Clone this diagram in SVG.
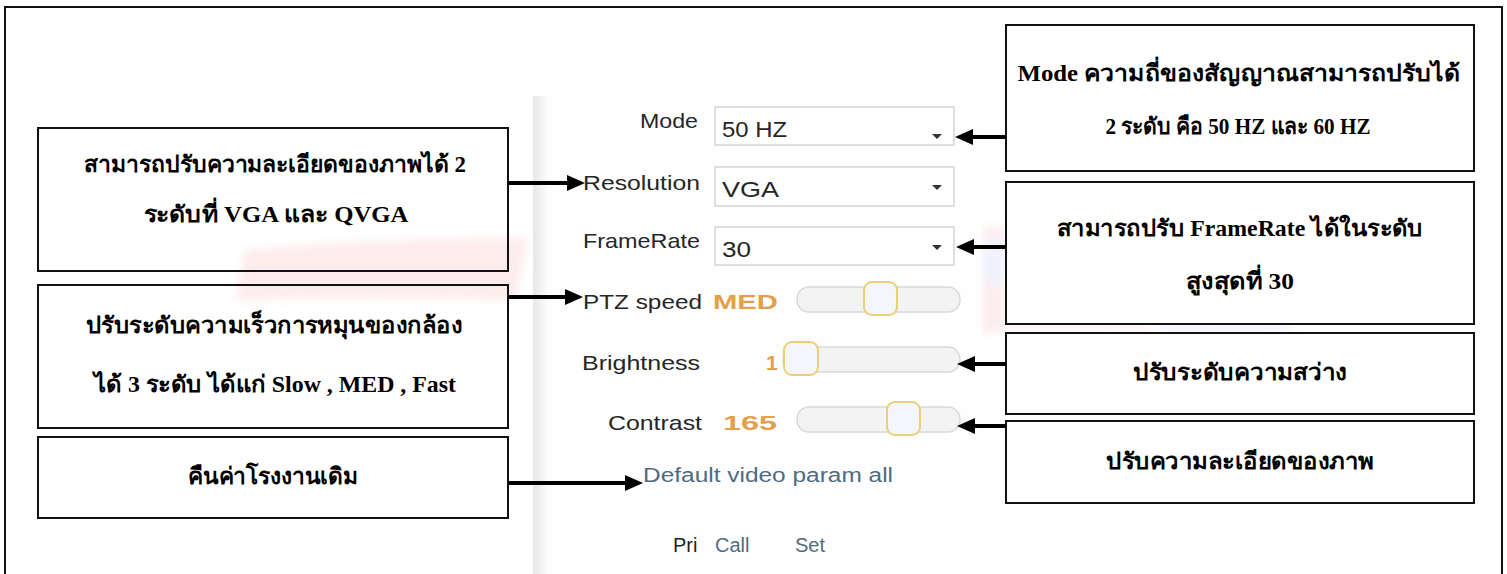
<svg xmlns="http://www.w3.org/2000/svg" width="1507" height="574" viewBox="0 0 1507 574">
<defs>
  <marker id="ah" markerUnits="userSpaceOnUse" markerWidth="20" markerHeight="18" refX="8" refY="9" orient="auto">
    <path d="M0,1 L18,9 L0,17 Z" fill="#000"/>
  </marker>
  <linearGradient id="strip" x1="0" x2="1" y1="0" y2="0">
    <stop offset="0" stop-color="#e6e6e6"/>
    <stop offset="1" stop-color="#fbfbfb"/>
  </linearGradient>
  <filter id="soft" x="-20%" y="-20%" width="140%" height="140%">
    <feGaussianBlur stdDeviation="4"/>
  </filter>
  <style>
    .box { fill: none; stroke: #111; stroke-width: 2; }
    .wbox { fill: #fff; stroke: #111; stroke-width: 2; }
    .th { font-family: "Liberation Serif", "DejaVu Serif", serif; font-weight: bold; font-size: 23px; fill: #000; text-anchor: middle; }
    .lbl { font-family: "Liberation Sans", Arial, sans-serif; font-size: 21px; fill: #262626; text-anchor: end; }
    .val { font-family: "Liberation Sans", Arial, sans-serif; font-size: 22px; fill: #262626; }
    .org { font-family: "Liberation Sans", Arial, sans-serif; font-size: 21px; font-weight: bold; fill: #e3a04a; }
    .lnk { font-family: "Liberation Sans", Arial, sans-serif; font-size: 20px; fill: #4f6b82; }
    .dd { fill: #fff; stroke: #d3d3d3; stroke-width: 1.5; }
    .tri { fill: #333; }
    .track { fill: #f3f3f3; stroke: #d9d9d9; stroke-width: 1.5; }
    .thumb { fill: #f4f6fb; stroke: #ebcf74; stroke-width: 2; }
    .conn { stroke: #000; stroke-width: 4; fill: none; marker-end: url(#ah); }
  </style>
</defs>
<rect width="1507" height="574" fill="#fff"/>
<!-- faint watermark -->
<g id="watermark" opacity="0.12" filter="url(#soft)">
  <path d="M245,250 Q380,238 528,238 L515,300 Q380,296 235,300 Z" fill="#ee6a6a"/>
  <path d="M982,228 L1006,226 L1006,330 L982,334 Z" fill="#ee7777"/>
  <ellipse cx="994" cy="262" rx="12" ry="26" fill="#7f95ee"/>
  <path d="M1006,325 L1150,324 L1150,332 L1006,333 Z" fill="#ee8899"/>
  <path d="M1160,324 L1290,323 L1290,332 L1160,332 Z" fill="#8fa0ee"/>
</g>
<!-- outer frame -->
<rect x="5" y="7" width="1497" height="600" fill="none" stroke="#111" stroke-width="2"/>
<!-- screenshot panel -->
<g id="panel">
  <rect x="533" y="96" width="448" height="478" fill="#fefefe"/>
  <rect x="533" y="96" width="14" height="478" fill="url(#strip)"/>
  <g id="row-mode">
    <text class="lbl" x="698" y="128" textLength="58" lengthAdjust="spacingAndGlyphs">Mode</text>
    <rect class="dd" x="715" y="107" width="239" height="38"/>
    <text class="val" x="722" y="137" textLength="65" lengthAdjust="spacingAndGlyphs">50 HZ</text>
    <path class="tri" d="M932,134 L942,134 L937,139 Z"/>
  </g>
  <g id="row-resolution">
    <text class="lbl" x="700" y="190" textLength="117" lengthAdjust="spacingAndGlyphs">Resolution</text>
    <rect class="dd" x="715" y="167" width="239" height="39"/>
    <text class="val" x="722" y="197" textLength="57" lengthAdjust="spacingAndGlyphs">VGA</text>
    <path class="tri" d="M932,185 L942,185 L937,190 Z"/>
  </g>
  <g id="row-framerate">
    <text class="lbl" x="700" y="248" textLength="117" lengthAdjust="spacingAndGlyphs">FrameRate</text>
    <rect class="dd" x="715" y="227" width="239" height="38"/>
    <text class="val" x="722" y="257" textLength="29" lengthAdjust="spacingAndGlyphs">30</text>
    <path class="tri" d="M932,245 L942,245 L937,250 Z"/>
  </g>
  <g id="row-ptz">
    <text class="lbl" x="702" y="309" textLength="119" lengthAdjust="spacingAndGlyphs">PTZ speed</text>
    <text class="org" x="713" y="309" textLength="65" lengthAdjust="spacingAndGlyphs">MED</text>
    <rect class="track" x="797" y="287" width="163" height="25" rx="12"/>
    <rect class="thumb" x="864" y="282" width="33" height="33" rx="8"/>
  </g>
  <g id="row-brightness">
    <text class="lbl" x="700" y="370" textLength="118" lengthAdjust="spacingAndGlyphs">Brightness</text>
    <text class="org" x="766" y="370">1</text>
    <rect class="track" x="783" y="347" width="177" height="25" rx="12"/>
    <rect class="thumb" x="784" y="342" width="34" height="33" rx="8"/>
  </g>
  <g id="row-contrast">
    <text class="lbl" x="702" y="430" textLength="94" lengthAdjust="spacingAndGlyphs">Contrast</text>
    <text class="org" x="723" y="430" textLength="54" lengthAdjust="spacingAndGlyphs">165</text>
    <rect class="track" x="797" y="407" width="163" height="25" rx="12"/>
    <rect class="thumb" x="887" y="402" width="33" height="33" rx="8"/>
  </g>
  <text class="lnk" x="643" y="482" textLength="250" lengthAdjust="spacingAndGlyphs">Default video param all</text>
  <text x="673" y="552" font-family="Liberation Sans, Arial, sans-serif" font-size="20" fill="#222">Pri</text>
  <text class="lnk" x="715" y="552">Call</text>
  <text class="lnk" x="795" y="552">Set</text>
</g>
<!-- left notes -->
<g id="note-resolution">
  <rect class="box" x="38" y="128" width="470" height="143"/>
  <text class="th" x="275" y="172" textLength="382" lengthAdjust="spacingAndGlyphs">สามารถปรับความละเอียดของภาพได้ 2</text>
  <text class="th" x="276" y="222" textLength="265" lengthAdjust="spacingAndGlyphs">ระดับที่ VGA และ QVGA</text>
</g>
<g id="note-ptz">
  <rect class="box" x="38" y="285" width="470" height="143"/>
  <text class="th" x="274" y="333" textLength="376" lengthAdjust="spacingAndGlyphs">ปรับระดับความเร็วการหมุนของกล้อง</text>
  <text class="th" x="275" y="392" textLength="362" lengthAdjust="spacingAndGlyphs">ได้ 3 ระดับ ได้แก่ Slow , MED , Fast</text>
</g>
<g id="note-default">
  <rect class="box" x="38" y="437" width="470" height="81"/>
  <text class="th" x="273" y="484" textLength="170" lengthAdjust="spacingAndGlyphs">คืนค่าโรงงานเดิม</text>
</g>
<!-- right notes -->
<g id="note-mode">
  <rect class="wbox" x="1006" y="25" width="468" height="146"/>
  <text class="th" x="1239" y="81" textLength="443" lengthAdjust="spacingAndGlyphs">Mode ความถี่ของสัญญาณสามารถปรับได้</text>
  <text class="th" x="1238" y="134" textLength="265" lengthAdjust="spacingAndGlyphs">2 ระดับ คือ 50 HZ และ 60 HZ</text>
</g>
<g id="note-framerate">
  <rect class="wbox" x="1006" y="182" width="468" height="142"/>
  <text class="th" x="1240" y="236" textLength="366" lengthAdjust="spacingAndGlyphs">สามารถปรับ FrameRate ได้ในระดับ</text>
  <text class="th" x="1240" y="289" textLength="108" lengthAdjust="spacingAndGlyphs">สูงสุดที่ 30</text>
</g>
<g id="note-brightness">
  <rect class="wbox" x="1006" y="333" width="468" height="81"/>
  <text class="th" x="1240" y="380" textLength="214" lengthAdjust="spacingAndGlyphs">ปรับระดับความสว่าง</text>
</g>
<g id="note-contrast">
  <rect class="wbox" x="1006" y="421" width="468" height="82"/>
  <text class="th" x="1240" y="469" textLength="268" lengthAdjust="spacingAndGlyphs">ปรับความละเอียดของภาพ</text>
</g>
<!-- connectors -->
<g id="connectors">
  <line class="conn" x1="508" y1="183" x2="575" y2="183"/>
  <line class="conn" x1="508" y1="297" x2="573" y2="297"/>
  <line class="conn" x1="508" y1="483" x2="633" y2="483"/>
  <line class="conn" x1="1006" y1="137" x2="965" y2="137"/>
  <line class="conn" x1="1006" y1="247" x2="966" y2="247"/>
  <line class="conn" x1="1006" y1="364" x2="967" y2="364"/>
  <line class="conn" x1="1006" y1="426" x2="967" y2="426"/>
</g>
</svg>
